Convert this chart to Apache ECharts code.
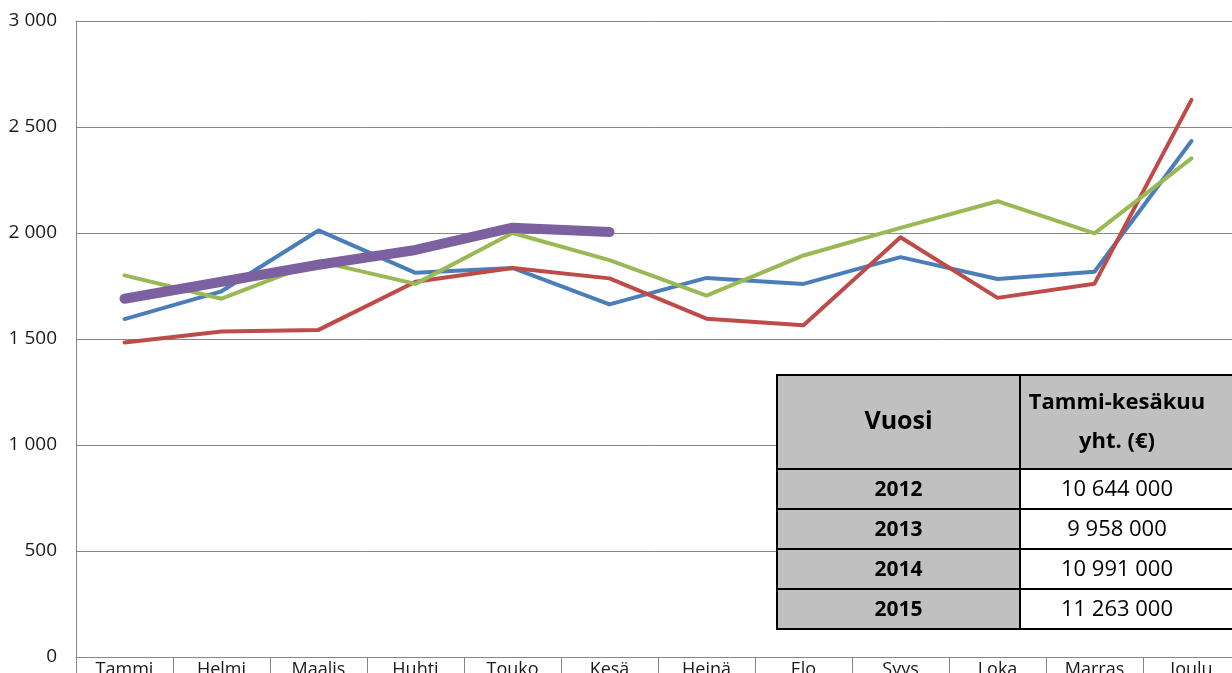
<!DOCTYPE html>
<html lang="fi">
<head>
    <meta charset="UTF-8">
    <title>Kuukausimyynti 2012-2015</title>
    <script src="https://cdn.jsdelivr.net/npm/echarts@6.0.0/dist/echarts.min.js"></script>
    <style>
        body, html {
            margin: 0;
            padding: 0;
            width: 100%;
            height: 100%;
            background-color: #fff;
        }
        #chart {
            width: 1232px;
            height: 673px;
        }
    </style>
</head>
<body>
<div id="chart"></div>
<script>
    // kuukaudet
    const months = ['Tammi', 'Helmi', 'Maalis', 'Huhti', 'Touko', 'Kesä', 'Heinä', 'Elo', 'Syys', 'Loka', 'Marras', 'Joulu'];

    // arvot luettu kuvasta
    const v2012 = [1594, 1725, 2012, 1812, 1835, 1663, 1788, 1760, 1886, 1783, 1817, 2434];
    const v2013 = [1484, 1535, 1543, 1770, 1835, 1786, 1596, 1565, 1980, 1694, 1761, 2628];
    const v2014 = [1800, 1690, 1866, 1760, 2000, 1872, 1705, 1894, 2024, 2150, 1998, 2352];
    const v2015 = [1690, 1770, 1850, 1920, 2025, 2005];

    const yTicks = [0, 500, 1000, 1500, 2000, 2500, 3000];

    // taulukko
    const tableHead = ['Vuosi', 'Tammi-kesäkuu\nyht. (€)'];
    const tableYears = ['2012', '2013', '2014', '2015'];
    const tableTotals = ['10 644 000', '9 958 000', '10 991 000', '11 263 000'];

    const font = "'Open Sans', sans-serif";

    function fmt(v) {
        return String(v).replace(/\B(?=(\d{3})+(?!\d))/g, ' ');
    }

    function buildTable() {
        var x0 = 777, x1 = 1020, x2 = 1245;
        var top = 375, headH = 94, rowH = 40;
        var els = [];
        var border = {stroke: '#000', lineWidth: 2};
        els.push({type: 'rect', shape: {x: x0, y: top, width: x1 - x0, height: headH},
            style: Object.assign({fill: '#c0c0c0'}, border), z: 100});
        els.push({type: 'rect', shape: {x: x1, y: top, width: x2 - x1, height: headH},
            style: Object.assign({fill: '#c0c0c0'}, border), z: 100});
        els.push({type: 'text', z: 101, style: {x: (x0 + x1) / 2, y: top + headH / 2, text: tableHead[0],
            align: 'center', verticalAlign: 'middle', font: 'bold 25px ' + font, fill: '#000'}});
        els.push({type: 'text', z: 101, style: {x: 1117, y: top + headH / 2, text: tableHead[1],
            align: 'center', verticalAlign: 'middle', font: 'bold 22px ' + font, fill: '#000', lineHeight: 39}});
        tableYears.forEach(function (yr, i) {
            var y = top + headH + i * rowH;
            els.push({type: 'rect', shape: {x: x0, y: y, width: x1 - x0, height: rowH},
                style: Object.assign({fill: '#c0c0c0'}, border), z: 100});
            els.push({type: 'rect', shape: {x: x1, y: y, width: x2 - x1, height: rowH},
                style: Object.assign({fill: '#fff'}, border), z: 100});
            els.push({type: 'text', z: 101, style: {x: (x0 + x1) / 2, y: y + rowH / 2 + 1, text: yr,
                align: 'center', verticalAlign: 'middle', font: 'bold 21px ' + font, fill: '#000'}});
            els.push({type: 'text', z: 101, style: {x: 1117, y: y + rowH / 2 + 1, text: tableTotals[i],
                align: 'center', verticalAlign: 'middle', font: '22px ' + font, fill: '#000'}});
        });
        return els;
    }

    var chart = echarts.init(document.getElementById('chart'));

    function line(name, data, color, width) {
        return {
            name: name,
            type: 'line',
            data: data,
            symbol: 'none',
            lineStyle: {color: color, width: width, cap: 'round', join: 'round'},
            itemStyle: {color: color}
        };
    }

    var option = {
        animation: false,
        textStyle: {fontFamily: font},
        grid: {left: 76, top: 21, bottom: 16, right: -8, outerBoundsMode: 'none', containLabel: false},
        xAxis: {
            type: 'category',
            data: months,
            boundaryGap: true,
            axisLine: {lineStyle: {color: '#868686', width: 1}},
            axisTick: {show: true, length: 20, lineStyle: {color: '#868686'}},
            axisLabel: {color: '#1a1a1a', fontSize: 18, margin: 4, interval: 0}
        },
        yAxis: {
            type: 'value',
            min: yTicks[0],
            max: yTicks[yTicks.length - 1],
            interval: 500,
            axisLine: {show: true, lineStyle: {color: '#868686', width: 1}},
            axisTick: {show: false},
            splitLine: {lineStyle: {color: '#868686', width: 1}},
            axisLabel: {color: '#1a1a1a', fontSize: 19, margin: 19, formatter: fmt}
        },
        series: [
            line('2012', v2012, '#4a7ebb', 4),
            line('2013', v2013, '#be4b48', 4),
            line('2014', v2014, '#98b954', 4),
            line('2015', v2015, '#7d60a0', 10)
        ],
        graphic: buildTable()
    };

    chart.setOption(option);
</script>
</body>
</html>
